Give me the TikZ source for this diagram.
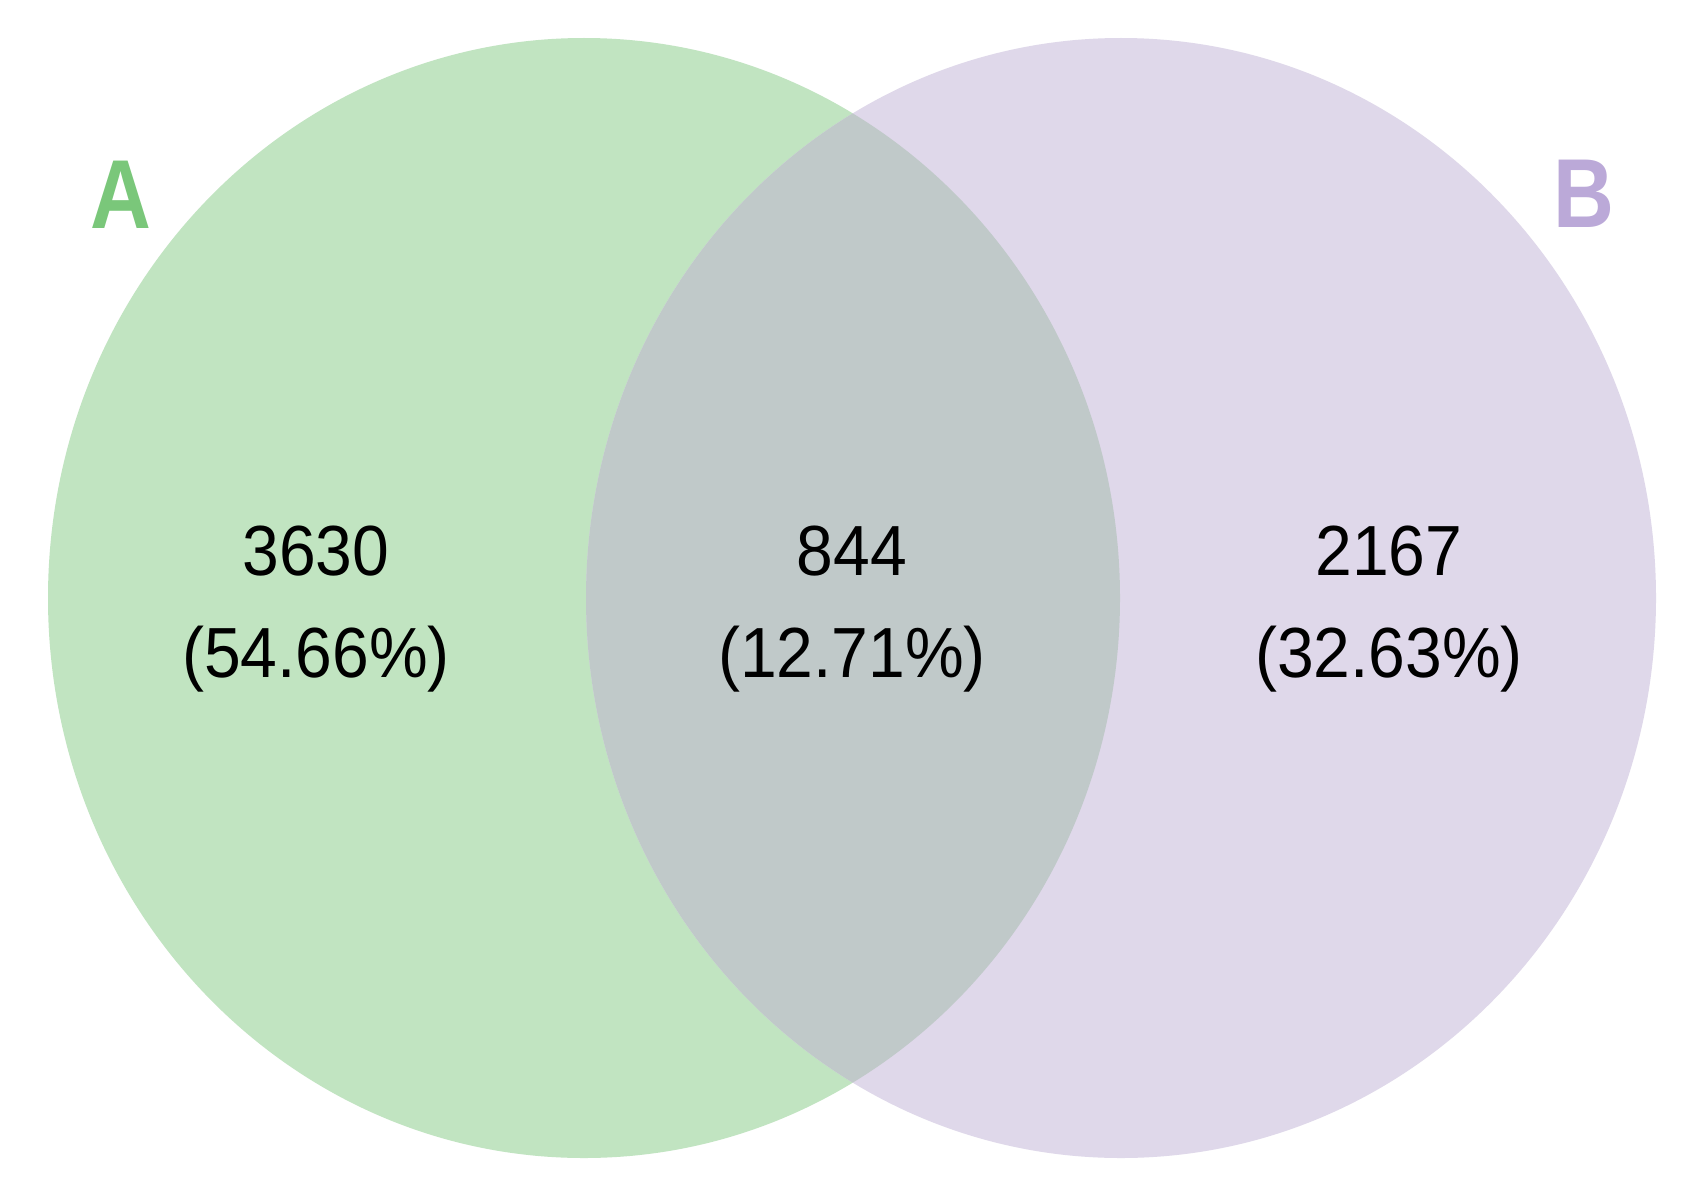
\documentclass[tikz,border=0pt]{standalone}
\usepackage{fontspec}
\setmainfont{Liberation Sans}
\newfontfamily\numfont[FakeStretch=0.93]{Liberation Sans}
\newfontfamily\labfont[FakeStretch=0.86]{Liberation Sans}
\definecolor{fillA}{HTML}{C1E4C1}
\definecolor{fillB}{HTML}{DFD8EA}
\definecolor{fillAB}{HTML}{C0C9C9}
\definecolor{labA}{HTML}{7AC77A}
\definecolor{labB}{HTML}{BBA9D8}
\begin{document}
\begin{tikzpicture}[x=1pt,y=-1pt,
  num/.style={inner sep=0pt,anchor=base,font=\numfont\fontsize{71}{80}\selectfont,text=black},
  setlab/.style={inner sep=0pt,anchor=base,font=\labfont\bfseries\fontsize{98}{110}\selectfont}]
\useasboundingbox (0,0) rectangle (1707,1196);
\fill[white] (0,0) rectangle (1707,1196);
\fill[fillA] (584,598) ellipse [x radius=536, y radius=560];
\fill[fillB] (1121,598) ellipse [x radius=535, y radius=560];
\begin{scope}
  \clip (584,598) ellipse [x radius=536, y radius=560];
  \fill[fillAB] (1121,598) ellipse [x radius=535, y radius=560];
\end{scope}
\node[setlab,text=labA] (labA) at (121,228) {A};
\node[setlab,text=labB] (labB) at (1584,227) {B};
\node[num] (nA) at (316,575) {3630};
\node[num] (pA) at (316,677) {(54.66\%)};
\node[num] (nAB) at (852,575) {844};
\node[num] (pAB) at (852,677) {(12.71\%)};
\node[num] (nB) at (1389,575) {2167};
\node[num] (pB) at (1389,677) {(32.63\%)};
\end{tikzpicture}
\end{document}
